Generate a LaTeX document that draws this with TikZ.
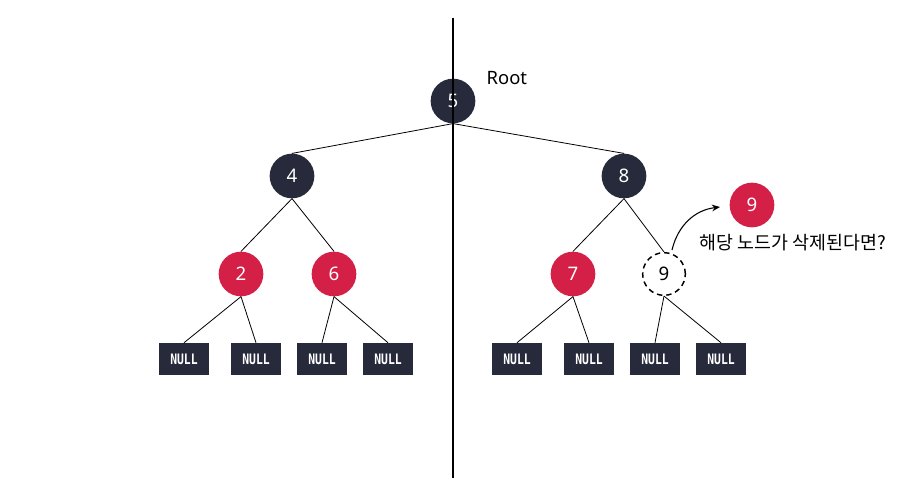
\documentclass[tikz,border=0pt]{standalone}
\usepackage{fontspec}
\setmainfont{Noto Sans}
\setmonofont{DejaVu Sans Mono}
\newfontfamily\krfont{Noto Sans CJK KR}
\usetikzlibrary{arrows.meta}
\definecolor{navy}{HTML}{262A3B}
\definecolor{rbred}{HTML}{D41F46}
\tikzset{
  blk/.style={circle, fill=navy, minimum size=33.5pt, inner sep=0pt, text=white, font=\fontsize{14}{16}\selectfont},
  rd/.style={circle, fill=rbred, minimum size=33.5pt, inner sep=0pt, text=white, font=\fontsize{14}{16}\selectfont},
  gone/.style={circle, draw=black, dash pattern=on 4pt off 3pt, line width=1.1pt, minimum size=32pt, inner sep=0pt, font=\fontsize{14}{16}\selectfont},
  nullbox/.style={rectangle, fill=navy, minimum width=38pt, minimum height=24pt, inner sep=0pt, text=white, font=\ttfamily\bfseries\fontsize{9}{10}\selectfont},
  edge/.style={line width=0.6pt, black},
}
\newcommand{\nulltxt}{\scalebox{0.95}[1.2]{NULL}}
\begin{document}
\begin{tikzpicture}[x=0.75pt, y=-0.75pt]
\useasboundingbox (0,0) rectangle (922,478);
\fill[white] (0,0) rectangle (922,478);
\node[blk] (n5) at (453,101) {5};
\node[anchor=west, font=\fontsize{13.8}{16}\selectfont] (root) at (482,78) {Root};
\node[blk] (n4) at (292,176) {4};
\node[blk] (n8) at (624,176) {8};
\node[rd] (n2) at (241,274) {2};
\node[rd] (n6) at (334,274) {6};
\node[rd] (n7) at (573,274) {7};
\node[gone] (n9) at (664,274) {9};
\node[rd] (r9) at (752,205) {9};
\node[font=\krfont\fontsize{13.8}{16}\selectfont] (q) at (793,243) {해당 노드가 삭제된다면?};
\node[nullbox] (a1) at (184,359) {\nulltxt};
\node[nullbox] (a2) at (256,359) {\nulltxt};
\node[nullbox] (a3) at (322,359) {\nulltxt};
\node[nullbox] (a4) at (388,359) {\nulltxt};
\node[nullbox] (b1) at (517,359) {\nulltxt};
\node[nullbox] (b2) at (589,359) {\nulltxt};
\node[nullbox] (b3) at (655,359) {\nulltxt};
\node[nullbox] (b4) at (721,359) {\nulltxt};
\draw[edge] (n5.south) -- (n4.north);
\draw[edge] (n5.south) -- (n8.north);
\draw[edge] (n4.south) -- (n2.north);
\draw[edge] (n4.south) -- (n6.north);
\draw[edge] (n8.south) -- (n7.north);
\draw[edge] (n8.south) -- (n9.north);
\draw[edge] (n2.south) -- (a1.north);
\draw[edge] (n2.south) -- (a2.north);
\draw[edge] (n6.south) -- (a3.north);
\draw[edge] (n6.south) -- (a4.north);
\draw[edge] (n7.south) -- (b1.north);
\draw[edge] (n7.south) -- (b2.north);
\draw[edge] (n9.south) -- (b3.north);
\draw[edge] (n9.south) -- (b4.north);
\coordinate (astart) at (672,250);
\coordinate (aend) at (720,207);
\draw[line width=0.8pt, -{Stealth[length=6pt,width=5pt]}] (astart) .. controls (678,225) and (695,210) .. (aend);
\coordinate (vtop) at (453,18);
\coordinate (vbot) at (453,478);
\draw[line width=1.2pt] (vtop) -- (vbot);
\end{tikzpicture}
\end{document}
